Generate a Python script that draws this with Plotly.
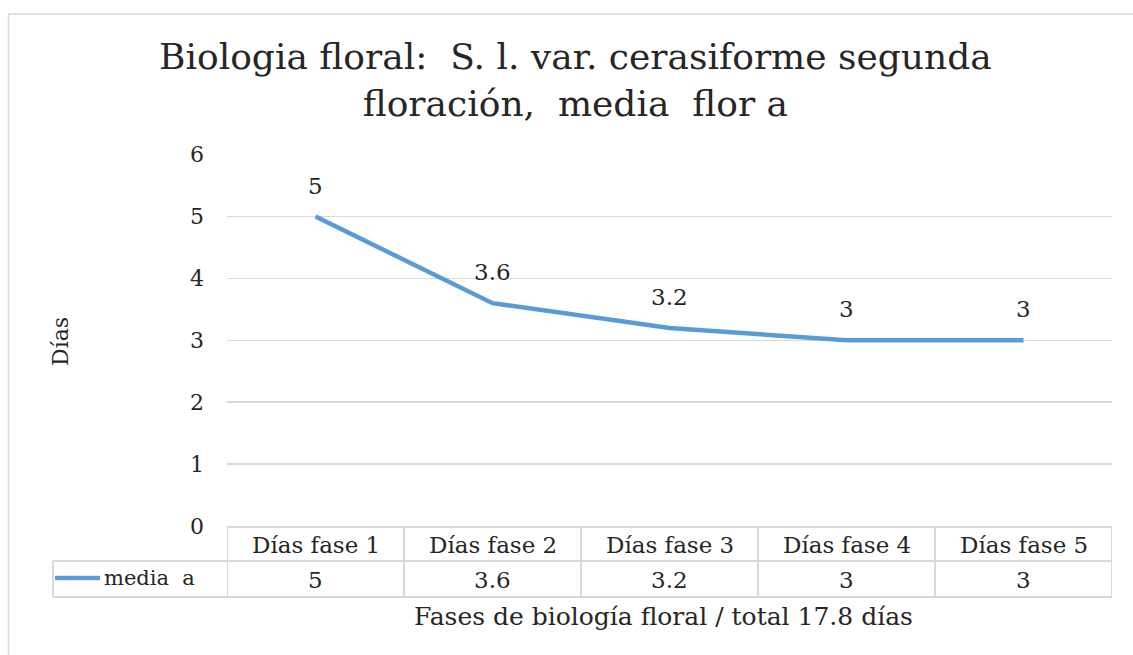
import plotly.graph_objects as go

categories = ["Días fase 1", "Días fase 2", "Días fase 3", "Días fase 4", "Días fase 5"]
values = [5, 3.6, 3.2, 3, 3]
value_labels = ["5", "3.6", "3.2", "3", "3"]
series_name = "media  a"
y_ticks = [0, 1, 2, 3, 4, 5, 6]
title_text = "Biologia floral:  S. l. var. cerasiforme segunda<br>floración,  media  flor a"
y_title = "Días"
x_title = "Fases de biología floral / total 17.8 días"

W, H = 1133, 655
FONT = "DejaVu Serif"
FS = 23
LINE_COLOR = "#5b9bd5"
GRID = "#d9d9d9"
TXT = "#262626"

def px_x(p):
    return p / W

def px_y(p):
    return 1 - p / H

plot_left, plot_right = 227, 1112
plot_top, plot_bottom = 154, 526
row1_top, row1_bot, row2_bot = 527, 561, 597
legend_left = 53

fig = go.Figure()
fig.add_trace(go.Scatter(
    x=list(range(len(categories))), y=values, mode="lines",
    line=dict(color=LINE_COLOR, width=4.5), name=series_name,
    showlegend=False, cliponaxis=False, hoverinfo="skip",
))

shapes = []
# chart border (left and top visible)
shapes.append(dict(type="line", xref="paper", yref="paper", x0=px_x(8.5), x1=px_x(8.5), y0=0, y1=px_y(14), line=dict(color=GRID, width=1.5)))
shapes.append(dict(type="line", xref="paper", yref="paper", x0=px_x(8.5), x1=1, y0=px_y(14), y1=px_y(14), line=dict(color=GRID, width=1.5)))

n = len(categories)
# table horizontal lines
shapes.append(dict(type="line", xref="x", yref="paper", x0=-0.5, x1=n - 0.5, y0=px_y(row1_top), y1=px_y(row1_top), line=dict(color=GRID, width=2)))
shapes.append(dict(type="line", xref="paper", yref="paper", x0=px_x(legend_left), x1=px_x(plot_right), y0=px_y(row1_bot), y1=px_y(row1_bot), line=dict(color=GRID, width=2)))
shapes.append(dict(type="line", xref="paper", yref="paper", x0=px_x(legend_left), x1=px_x(plot_right), y0=px_y(row2_bot), y1=px_y(row2_bot), line=dict(color=GRID, width=2)))
# vertical lines
for i in range(n + 1):
    shapes.append(dict(type="line", xref="x", yref="paper", x0=i - 0.5, x1=i - 0.5, y0=px_y(row1_top), y1=px_y(row2_bot), line=dict(color=GRID, width=2)))
shapes.append(dict(type="line", xref="paper", yref="paper", x0=px_x(legend_left), x1=px_x(legend_left), y0=px_y(row1_bot), y1=px_y(row2_bot), line=dict(color=GRID, width=2)))
# legend key
shapes.append(dict(type="line", xref="paper", yref="paper", x0=px_x(55), x1=px_x(100), y0=px_y(578), y1=px_y(578), line=dict(color=LINE_COLOR, width=4.5)))

def txt(size=FS):
    return dict(family=FONT, size=size, color=TXT)

annotations = []
for i, (c, v, val) in enumerate(zip(categories, value_labels, values)):
    annotations.append(dict(x=i, xref="x", y=px_y(545), yref="paper", text=c, showarrow=False,
                            xanchor="center", yanchor="middle", font=txt()))
    annotations.append(dict(x=i, xref="x", y=px_y(580), yref="paper", text=v, showarrow=False,
                            xanchor="center", yanchor="middle", font=txt()))
    # data label above the point
    annotations.append(dict(x=i, xref="x", y=val, yref="y", text=v, showarrow=False,
                            xanchor="center", yanchor="middle", yshift=31, font=txt()))
annotations.append(dict(x=px_x(102), xref="paper", y=px_y(578), yref="paper", text=series_name,
                        xanchor="left", yanchor="middle", showarrow=False, font=txt(21)))
annotations.append(dict(x=px_x(60), xref="paper", y=px_y(342), yref="paper", text=y_title, textangle=-90,
                        xanchor="center", yanchor="middle", showarrow=False, font=txt(22)))
annotations.append(dict(x=px_x(663), xref="paper", y=px_y(616), yref="paper", text=x_title,
                        xanchor="center", yanchor="middle", showarrow=False, font=txt(25)))
annotations.append(dict(x=px_x(575), xref="paper", y=px_y(80), yref="paper", text=title_text,
                        xanchor="center", yanchor="middle", showarrow=False, font=txt(36)))

fig.update_layout(
    width=W, height=H, margin=dict(l=0, r=0, t=0, b=0, pad=0, autoexpand=False),
    paper_bgcolor="white", plot_bgcolor="white", showlegend=False,
    xaxis=dict(domain=[px_x(plot_left), px_x(plot_right)], range=[-0.5, n - 0.5], automargin=False,
               showticklabels=False, showgrid=False, zeroline=False, showline=False, fixedrange=True),
    yaxis=dict(domain=[px_y(plot_bottom), px_y(plot_top)], range=[0, 6.01], tickvals=y_ticks, automargin=False,
               showgrid=True, gridcolor=GRID, gridwidth=1.5, zeroline=False, showline=False, fixedrange=True,
               tickfont=txt(22), ticks="", ticklabelstandoff=22),
    shapes=shapes, annotations=annotations,
)
fig.write_html("out.html", config={"displayModeBar": False, "staticPlot": True},
               post_script="document.body.style.margin='0';document.body.style.overflow='hidden';")
